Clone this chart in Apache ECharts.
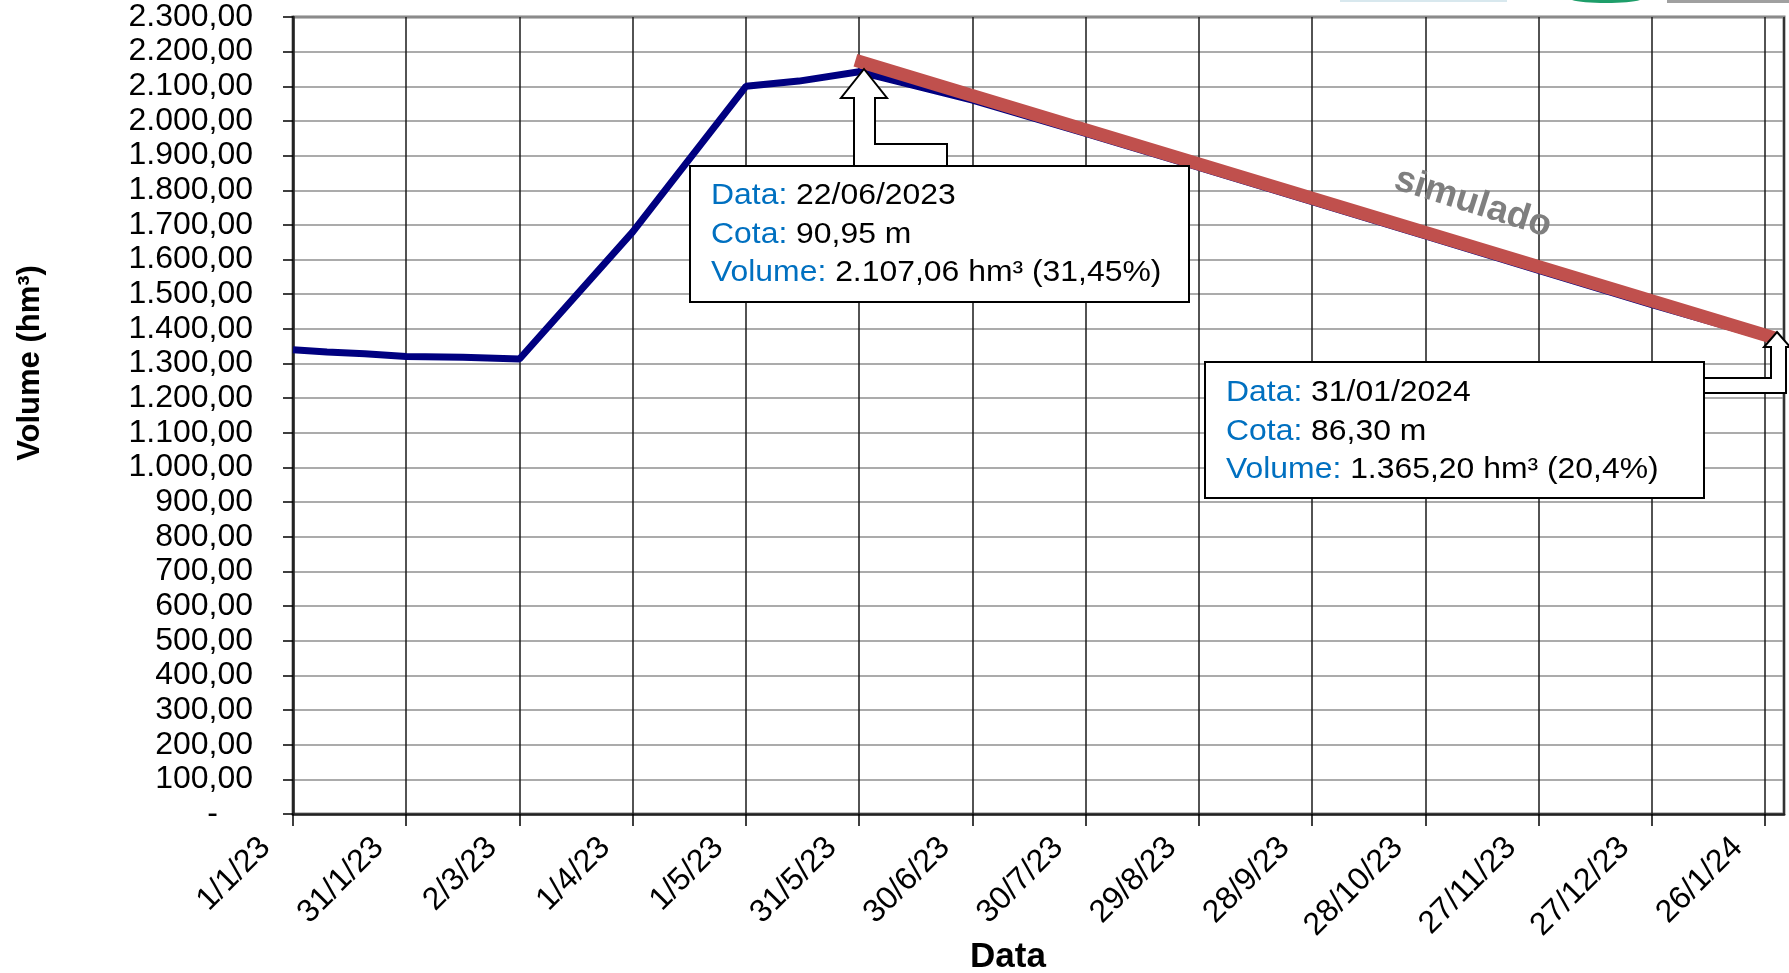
<!DOCTYPE html>
<html>
<head>
<meta charset="utf-8">
<script src="https://cdn.jsdelivr.net/npm/echarts@6/dist/echarts.min.js"></script>
<style>
  html, body { margin: 0; padding: 0; background: #fff; }
  #chart { width: 1789px; height: 973px; }
</style>
</head>
<body>
<div id="chart"></div>
<script>
// ---- data ----
const obsDates = ['2023-01-01','2023-01-10','2023-01-20','2023-01-31','2023-02-15','2023-03-02',
  '2023-04-01','2023-05-01','2023-05-15','2023-05-31','2023-06-30','2023-07-30','2023-08-29',
  '2023-09-28','2023-10-28','2023-11-27','2023-12-27','2024-01-30'];
const obsVolumes = [1340,1333,1328,1320,1318,1313,1680,2100,2115,2142,2060,1964,1866,1767,1668,1569,1470,1363];
const simDates = ['2023-05-30','2024-01-29'];
const simVolumes = [2175,1372];
const xTickLabels = ['1/1/23','31/1/23','2/3/23','1/4/23','1/5/23','31/5/23','30/6/23','30/7/23',
  '29/8/23','28/9/23','28/10/23','27/11/23','27/12/23','26/1/24'];
const axisStart = '2023-01-01';
const axisEnd = '2024-01-31';
const tickStepDays = 30;
const note1 = ['22/06/2023','90,95 m','2.107,06 hm³ (31,45%)'];
const note2 = ['31/01/2024','86,30 m','1.365,20 hm³ (20,4%)'];

function dayOf(s) {
  const [y, m, d] = s.split('-').map(Number);
  const [y0, m0, d0] = axisStart.split('-').map(Number);
  return Math.round((Date.UTC(y, m - 1, d) - Date.UTC(y0, m0 - 1, d0)) / 86400000);
}
function fmtNum(v) {
  const parts = v.toFixed(2).split('.');
  parts[0] = parts[0].replace(/\B(?=(\d{3})+(?!\d))/g, '.');
  return parts[0] + ',' + parts[1];
}

const FONT = '"Liberation Sans", Arial, sans-serif';
const chart = echarts.init(document.getElementById('chart'), null, { renderer: 'canvas' });

function noteText(n) {
  return '{k|Data:}{v| ' + n[0] + '}\n{k|Cota:}{v| ' + n[1] + '}\n{k|Volume:}{v| ' + n[2] + '}';
}
const noteRich = {
  k: { fill: '#0070C0', fontSize: 29, fontFamily: FONT, lineHeight: 38.5 },
  v: { fill: '#000000', fontSize: 29, fontFamily: FONT, lineHeight: 38.5 }
};

chart.setOption({
  animation: false,
  backgroundColor: '#ffffff',
  grid: { left: 293, top: 17, right: 5, bottom: 159, show: true, borderColor: '#808080', borderWidth: 3 },
  xAxis: {
    type: 'value', min: 0, max: dayOf(axisEnd), interval: tickStepDays,
    axisLine: { lineStyle: { color: '#222', width: 2.5 } },
    axisTick: { show: true, inside: false, length: 12, lineStyle: { color: '#000', width: 1.5 } },
    splitLine: { show: true, lineStyle: { color: '#1a1a1a', width: 1.5 } },
    axisLabel: {
      rotate: 45, margin: 1, padding: [0, 39, 0, 0], color: '#000', fontSize: 32, fontFamily: FONT,
      showMaxLabel: false,
      formatter: v => (v % tickStepDays === 0 && xTickLabels[v / tickStepDays]) ? xTickLabels[v / tickStepDays] : ''
    }
  },
  yAxis: {
    type: 'value', min: 0, max: 2300, interval: 100,
    axisLine: { show: true, lineStyle: { color: '#222', width: 2.5 } },
    axisTick: { show: true, inside: false, length: 10, lineStyle: { color: '#000', width: 1.5 } },
    splitLine: { show: true, lineStyle: { color: '#8f8f8f', width: 1.5 } },
    axisLabel: {
      margin: 40, color: '#000', fontSize: 32, fontFamily: FONT,
      formatter: v => v === 0 ? '{d|-}' : fmtNum(v),
      rich: { d: { fontSize: 32, fontFamily: FONT, color: '#000', padding: [0, 35, 0, 0] } }
    }
  },
  series: [
    {
      type: 'line', name: 'observado', symbol: 'none', z: 3,
      data: obsDates.map((d, i) => [dayOf(d), obsVolumes[i]]),
      lineStyle: { color: '#000080', width: 7 }
    },
    {
      type: 'line', name: 'simulado', symbol: 'none', z: 4,
      data: simDates.map((d, i) => [dayOf(d), simVolumes[i]]),
      lineStyle: { color: '#C0504D', width: 13, cap: 'butt' }
    }
  ],
  graphic: [
    // y-axis title
    { type: 'text', z: 100, x: 30, y: 363, rotation: Math.PI / 2,
      style: { text: 'Volume (hm³)', fill: '#000', font: 'bold 31px ' + FONT, align: 'center', verticalAlign: 'middle' } },
    // x-axis title
    { type: 'text', z: 100, x: 1008, y: 957,
      style: { text: 'Data', fill: '#000', font: 'bold 35px ' + FONT, align: 'center', verticalAlign: 'middle' } },
    // simulado label
    { type: 'text', z: 100, x: 1473, y: 203, rotation: -17.5 * Math.PI / 180,
      style: { text: 'simulado', fill: '#7f7f7f', font: 'bold 37px ' + FONT, align: 'center', verticalAlign: 'middle' } },
    // callout 1 arrow
    { type: 'polygon', z: 100,
      shape: { points: [[864,69],[887,98],[875,98],[875,144],[947,144],[947,167],[854,167],[854,98],[841,98]] },
      style: { fill: '#fff', stroke: '#000', lineWidth: 2 } },
    { type: 'rect', z: 101, shape: { x: 690, y: 166, width: 499, height: 136 },
      style: { fill: '#fff', stroke: '#000', lineWidth: 2 } },
    { type: 'text', z: 102, x: 711, y: 177, scaleX: 1.1,
      style: { text: noteText(note1), rich: noteRich, verticalAlign: 'top', align: 'left' } },
    // callout 2 arrow
    { type: 'polygon', z: 100,
      shape: { points: [[1777,332],[1790,347],[1786,347],[1786,393],[1704,393],[1704,378],[1771,378],[1771,347],[1764,347]] },
      style: { fill: '#fff', stroke: '#000', lineWidth: 2 } },
    { type: 'rect', z: 101, shape: { x: 1205, y: 362, width: 499, height: 136 },
      style: { fill: '#fff', stroke: '#000', lineWidth: 2 } },
    { type: 'text', z: 102, x: 1226, y: 374, scaleX: 1.1,
      style: { text: noteText(note2), rich: noteRich, verticalAlign: 'top', align: 'left' } },
    // cropped logo fragments at the top edge
    { type: 'rect', z: 100, shape: { x: 1340, y: 0, width: 167, height: 2 }, style: { fill: '#d8e8ee' } },
    { type: 'ellipse', z: 100, shape: { cx: 1606, cy: -2, rx: 37, ry: 5 }, style: { fill: '#1e9e6a' } },
    { type: 'rect', z: 100, shape: { x: 1667, y: 0, width: 122, height: 3 }, style: { fill: '#a0a0a0' } }
  ]
});
</script>
</body>
</html>
